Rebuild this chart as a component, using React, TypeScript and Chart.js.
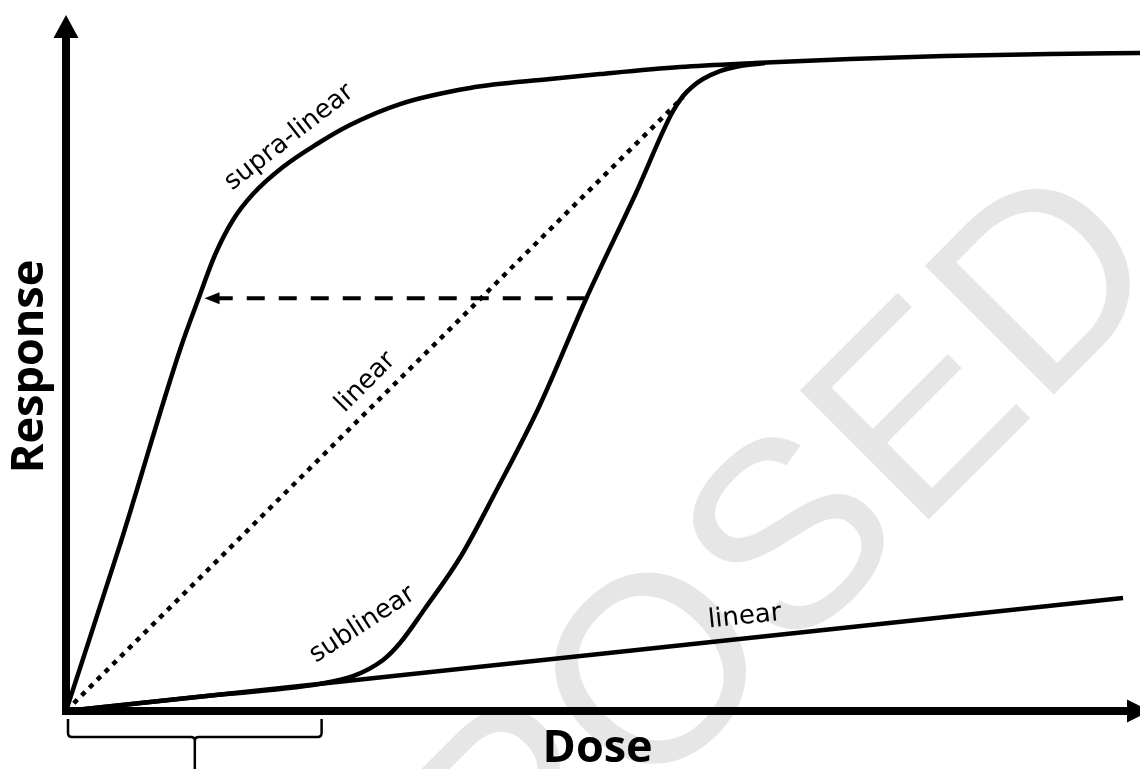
import React, { useEffect, useRef } from "react";
import { Chart, registerables } from "chart.js";

Chart.register(...registerables);

// Dose (x) and response (y) in arbitrary units, both axes 0..100
const supraDose = [0, 5.03, 10.61, 12.29, 13.87, 15.55, 17.41, 20.2, 23.37, 26.44, 31.1, 37.62, 45.07, 49.72, 57.17, 64.15, 73.0, 81.75, 91.62, 100];
const supraResp = [0, 23.9, 51.87, 59.05, 65.52, 70.55, 74.28, 78.16, 81.47, 84.2, 87.21, 89.52, 90.8, 91.52, 92.53, 93.1, 93.68, 94.11, 94.4, 94.54];

const subDose = [0, 12.4, 23.65, 26.72, 29.52, 31.1, 33.33, 36.78, 39.85, 44.13, 48.42, 53.07, 56.42, 57.45, 58.29, 59.31, 60.89, 62.76, 65.08];
const subResp = [0, 2.05, 3.9, 5.0, 7.33, 9.77, 14.51, 22.27, 31.03, 43.97, 59.2, 74.43, 85.92, 88.36, 89.66, 90.8, 91.95, 92.67, 93.1];

const lowLinearDose = [0, 98.42];
const lowLinearResp = [0, 16.24];

const linearDose = [0, 57.45];
const linearResp = [0, 88.2];

// dashed shift arrow (drawn right to left)
const shiftDose = [48.3, 13.8];
const shiftResp = [59.3, 59.3];
const shiftTipDose = 12.9;

// low-dose bracket extent
const bracketDose = [0, 23.8];

// curve labels
const labelTexts = ["supra-linear", "linear", "sublinear", "linear"];
const labelDose = [20.8, 27.9, 27.6, 63.2];
const labelResp = [82.4, 47.2, 12.4, 13.5];
const labelAngle = [-38, -45, -33, -6];

const xTitle = "Dose";
const yTitle = "Response";
const xTitleDose = 49.5;
const yTitleResp = 49.5;

// background watermark
const watermark = "PROPOSED";
const watermarkAnchorDose = 78.9; // start of the "E"
const watermarkAnchorResp = 25.3;

const toXY = (xs: number[], ys: number[]) => xs.map((x, i) => ({ x, y: ys[i] }));

const decor = {
  id: "decor",
  beforeDatasetsDraw(chart: any) {
    const ctx = chart.ctx;
    const xs = chart.scales.x;
    const ys = chart.scales.y;
    ctx.save();
    ctx.font = '265px "Liberation Sans", Arial, sans-serif';
    ctx.fillStyle = "#e6e6e6";
    ctx.textBaseline = "alphabetic";
    ctx.textAlign = "left";
    const ax = xs.getPixelForValue(watermarkAnchorDose);
    const ay = ys.getPixelForValue(watermarkAnchorResp);
    ctx.translate(ax, ay);
    ctx.rotate(-Math.PI / 4);
    const pre = ctx.measureText(watermark.slice(0, 6)).width;
    ctx.fillText(watermark, -pre, 0);
    ctx.restore();
  },
  afterDatasetsDraw(chart: any) {
    const ctx = chart.ctx;
    const xs = chart.scales.x;
    const ys = chart.scales.y;
    const { left, right, top, bottom } = chart.chartArea;
    ctx.save();
    ctx.fillStyle = "#000";
    ctx.strokeStyle = "#000";

    // dashed arrow head
    const ty = ys.getPixelForValue(shiftResp[1]);
    const tx = xs.getPixelForValue(shiftTipDose);
    ctx.beginPath();
    ctx.moveTo(tx, ty);
    ctx.lineTo(tx + 15, ty - 6);
    ctx.lineTo(tx + 15, ty + 6);
    ctx.closePath();
    ctx.fill();

    // axes
    ctx.lineWidth = 8;
    ctx.lineCap = "butt";
    ctx.beginPath();
    ctx.moveTo(left, bottom + 4);
    ctx.lineTo(left, top + 22);
    ctx.moveTo(left - 4, bottom);
    ctx.lineTo(right - 12, bottom);
    ctx.stroke();
    ctx.beginPath();
    ctx.moveTo(left, top);
    ctx.lineTo(left - 12.5, top + 23);
    ctx.lineTo(left + 12.5, top + 23);
    ctx.closePath();
    ctx.fill();
    ctx.beginPath();
    ctx.moveTo(right + 10, bottom);
    ctx.lineTo(right - 13, bottom - 11.5);
    ctx.lineTo(right - 13, bottom + 11.5);
    ctx.closePath();
    ctx.fill();

    // bracket
    const bx0 = xs.getPixelForValue(bracketDose[0]) + 2;
    const bx1 = xs.getPixelForValue(bracketDose[1]);
    const bm = (bx0 + bx1) / 2;
    const by0 = bottom + 8;
    const by1 = bottom + 26;
    const r = 4;
    ctx.lineWidth = 2.5;
    ctx.beginPath();
    ctx.moveTo(bx0, by0);
    ctx.lineTo(bx0, by1 - r);
    ctx.quadraticCurveTo(bx0, by1, bx0 + r, by1);
    ctx.lineTo(bm - r, by1);
    ctx.quadraticCurveTo(bm, by1, bm, by1 + r);
    ctx.lineTo(bm, chart.height + 2);
    ctx.moveTo(bm, by1 + r);
    ctx.quadraticCurveTo(bm, by1, bm + r, by1);
    ctx.lineTo(bx1 - r, by1);
    ctx.quadraticCurveTo(bx1, by1, bx1, by1 - r);
    ctx.lineTo(bx1, by0);
    ctx.stroke();

    // curve labels
    ctx.font = '26px "DejaVu Sans", sans-serif';
    ctx.textAlign = "center";
    ctx.textBaseline = "middle";
    labelTexts.forEach((t, i) => {
      ctx.save();
      ctx.translate(xs.getPixelForValue(labelDose[i]), ys.getPixelForValue(labelResp[i]));
      ctx.rotate((labelAngle[i] * Math.PI) / 180);
      ctx.fillText(t, 0, 0);
      ctx.restore();
    });

    // axis titles
    ctx.font = 'bold 45px "Open Sans", sans-serif';
    ctx.textBaseline = "alphabetic";
    ctx.fillText(xTitle, xs.getPixelForValue(xTitleDose), bottom + 51);
    ctx.save();
    ctx.translate(left - 23, ys.getPixelForValue(yTitleResp));
    ctx.rotate(-Math.PI / 2);
    ctx.fillText(yTitle, 0, 0);
    ctx.restore();

    ctx.restore();
  },
};

export default function App() {
  const ref = useRef<HTMLCanvasElement>(null);
  useEffect(() => {
    if (!ref.current) return;
    const chart = new Chart(ref.current, {
      type: "line",
      data: {
        datasets: [
          {
            label: "supra-linear",
            data: toXY(supraDose, supraResp),
            borderColor: "#000",
            borderWidth: 4.5,
            pointRadius: 0,
            cubicInterpolationMode: "monotone",
            fill: false,
          },
          {
            label: "sublinear",
            data: toXY(subDose, subResp),
            borderColor: "#000",
            borderWidth: 4.5,
            pointRadius: 0,
            cubicInterpolationMode: "monotone",
            fill: false,
          },
          {
            label: "linear (low)",
            data: toXY(lowLinearDose, lowLinearResp),
            borderColor: "#000",
            borderWidth: 4.5,
            pointRadius: 0,
            tension: 0,
            fill: false,
          },
          {
            label: "linear",
            data: toXY(linearDose, linearResp),
            borderColor: "#000",
            borderWidth: 4.5,
            borderDash: [5, 6],
            pointRadius: 0,
            tension: 0,
            fill: false,
          },
          {
            label: "shift",
            data: toXY(shiftDose, shiftResp),
            borderColor: "#000",
            borderWidth: 4,
            borderDash: [18, 14],
            pointRadius: 0,
            tension: 0,
            fill: false,
          },
        ],
      },
      options: {
        animation: false,
        responsive: false,
        events: [],
        layout: { padding: { left: 66, right: 0, top: 15, bottom: 58 } },
        plugins: { legend: { display: false }, tooltip: { enabled: false }, title: { display: false } },
        scales: {
          x: { type: "linear", min: 0, max: 100, display: false },
          y: { type: "linear", min: 0, max: 100, display: false },
        },
      },
      plugins: [decor],
    } as any);
    return () => chart.destroy();
  }, []);
  return (
    <canvas
      ref={ref}
      width={1140}
      height={769}
      style={{ position: "absolute", left: 0, top: 0, display: "block", background: "#fff" }}
    />
  );
}
